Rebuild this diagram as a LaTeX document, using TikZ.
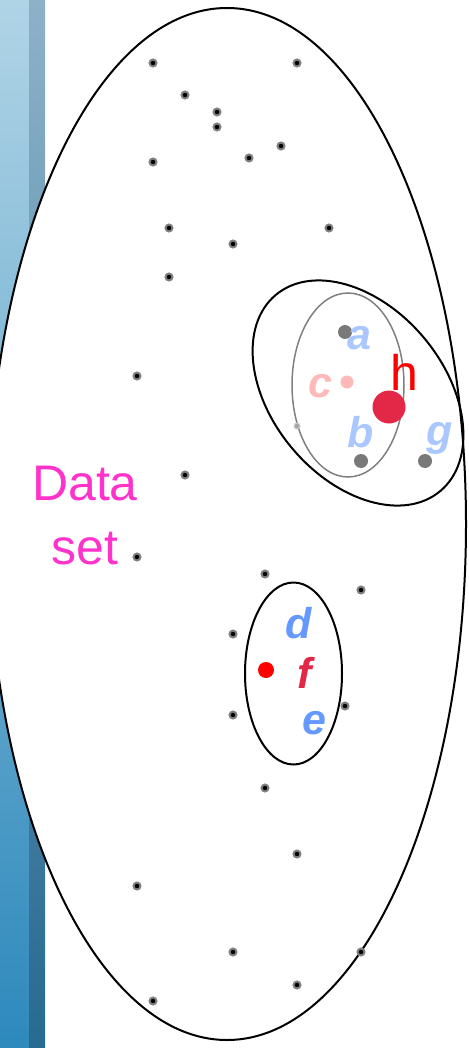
\documentclass[tikz,border=0pt]{standalone}
\usepackage{fontspec}
\setmainfont{Liberation Sans}
\usepackage{tikz}
\usetikzlibrary{shapes.geometric}
\usetikzlibrary{positioning}
\definecolor{barlight}{RGB}{176,212,230}
\definecolor{barlightb}{RGB}{46,137,188}
\definecolor{bardark}{RGB}{140,178,200}
\definecolor{bardarkb}{RGB}{40,106,145}
\definecolor{lblue}{RGB}{170,200,255}
\definecolor{mblue}{RGB}{102,153,255}
\definecolor{lpink}{RGB}{255,185,185}
\definecolor{crim}{RGB}{226,40,70}
\definecolor{dsmag}{RGB}{255,51,204}
\tikzstyle{pt} = [circle, fill=black, draw=gray, line width=2pt, inner sep=0pt, minimum size=7pt]
\tikzstyle{blob} = [circle, fill=gray!95!black, inner sep=0pt, minimum width=12pt, minimum height=14pt]
\tikzstyle{lab} = [font=\fontsize{43}{46}\selectfont\bfseries\itshape, inner sep=0pt]
\tikzstyle{region} = [draw=black, line width=2pt]

\begin{document}
\begin{tikzpicture}[x=1pt, y=-1pt]
  \useasboundingbox (0,0) rectangle (468,1048);
  % side bar
  \shade[top color=barlight, bottom color=barlightb] (0,0) rectangle (29,1048);
  \shade[top color=bardark, bottom color=bardarkb] (29,0) rectangle (45,1048);
  % data set
  \node [region, fill=white, ellipse, minimum width=478pt, minimum height=1032pt,
    inner sep=0pt] (dataset) at (227,524) {};
  \node [font=\fontsize{50}{64}\selectfont, text=dsmag, align=center]
    (dstext) at (85,516) {Data\\set};
  % points of the data set
  \foreach \x/\y [count=\i] in {153/63, 297/63, 185/95, 217/112, 217/127,
      281/146, 249/158, 153/162, 169/228, 233/244, 329/228, 169/277,
      137/376, 185/475, 137/557, 265/574, 361/590, 233/634, 233/715,
      345/706, 265/788, 297/854, 137/886, 233/952, 361/952, 297/985,
      153/1001}
    \node [pt] (p\i) at (\x,\y) {};
  % upper cluster
  \node [region, ellipse, minimum width=256pt, minimum height=172pt,
    inner sep=0pt, rotate=-50] (outer) at (358,393) {};
  \node [draw=gray, line width=1.5pt, ellipse, minimum width=112pt,
    minimum height=184pt, inner sep=0pt] (inner) at (348,385) {};
  \node [circle, fill=gray!70, draw=gray!40, line width=1pt, inner sep=0pt,
    minimum size=6pt] (q) at (297,426) {};
  \node [blob] (pa) at (345,332) {};
  \node [blob] (pb) at (361,461) {};
  \node [blob] (pg) at (425,461) {};
  \node [circle, fill=lpink, inner sep=0pt, minimum width=10pt,
    minimum height=13pt] (pc) at (347,382) {};
  \node [circle, fill=crim, inner sep=0pt, minimum size=33pt] (ph) at (389,407) {};
  \node [lab, text=lblue] (la) at (359,338) {a};
  \node [lab, text=lpink] (lc) at (320,386) {c};
  \node [lab, text=lblue] (lb) at (361,432) {b};
  \node [lab, text=lblue] (lg) at (440,438) {g};
  \node [font=\fontsize{50}{54}\selectfont, text=red, inner sep=0pt]
    (lh) at (404,372) {h};
  % lower cluster
  \node [region, ellipse, minimum width=97pt, minimum height=182pt,
    inner sep=0pt] (small) at (293.5,673.5) {};
  \node [circle, fill=red, inner sep=0pt, minimum width=12pt,
    minimum height=16pt] (pf) at (266,670) {};
  \node [lab, text=mblue] (ld) at (299,623) {d};
  \node [lab, text=crim] (lf) at (305,673) {f};
  \node [lab, text=mblue] (le) at (314,723) {e};
\end{tikzpicture}
\end{document}
